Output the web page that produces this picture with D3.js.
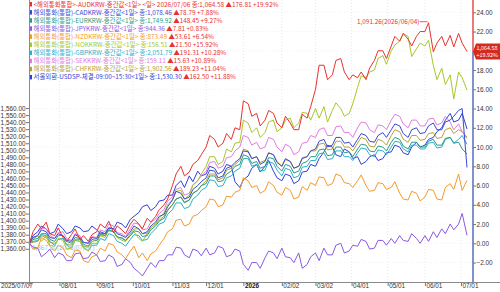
<!DOCTYPE html>
<html><head><meta charset="utf-8">
<script src="https://cdn.jsdelivr.net/npm/d3@7"></script>
<style>html,body{margin:0;padding:0;background:#fff;}svg{display:block;font-family:"Noto Sans CJK KR","Noto Sans",sans-serif;}</style>
</head><body><svg id="c" width="500" height="292"></svg>
<script>
const dates = [
"2025-07-07","2025-07-10","2025-07-14","2025-07-17","2025-07-21","2025-07-24","2025-07-28","2025-07-31",
"2025-08-04","2025-08-07","2025-08-11","2025-08-14","2025-08-18","2025-08-21","2025-08-25","2025-08-28",
"2025-09-01","2025-09-04","2025-09-08","2025-09-11","2025-09-15","2025-09-18","2025-09-22","2025-09-25","2025-09-29","2025-10-02",
"2025-10-06","2025-10-09","2025-10-13","2025-10-16","2025-10-20","2025-10-23","2025-10-27","2025-10-30",
"2025-11-03","2025-11-06","2025-11-10","2025-11-13","2025-11-17","2025-11-20","2025-11-24","2025-11-27",
"2025-12-01","2025-12-04","2025-12-08","2025-12-11","2025-12-15","2025-12-18","2025-12-22","2025-12-25","2025-12-29","2026-01-01",
"2026-01-05","2026-01-08","2026-01-12","2026-01-15","2026-01-19","2026-01-22","2026-01-26","2026-01-29",
"2026-02-02","2026-02-05","2026-02-09","2026-02-12","2026-02-16","2026-02-19","2026-02-23","2026-02-26",
"2026-03-02","2026-03-05","2026-03-09","2026-03-12","2026-03-16","2026-03-19","2026-03-23","2026-03-26","2026-03-30","2026-04-02",
"2026-04-06","2026-04-09","2026-04-13","2026-04-16","2026-04-20","2026-04-23","2026-04-27","2026-04-30",
"2026-05-04","2026-05-07","2026-05-11","2026-05-14","2026-05-18","2026-05-21","2026-05-25","2026-05-28",
"2026-06-01","2026-06-04","2026-06-08","2026-06-11","2026-06-15","2026-06-18","2026-06-22","2026-06-25","2026-06-29","2026-07-02",
"2026-07-06"];
const audPct = [0,1.2,2.0,1.5,2.2,1.0,0.8,1.6, 0.6,0.2,0.9,1.5,0.4,0.8,0.2,0.9, 1.2,2.0,1.6,2.3,1.1,1.8,1.4,1.0,2.0,2.5, 2.0,1.5,2.6,2.2,2.8,3.5,4.0,4.6, 6.0,7.2,8.0,7.0,7.4,8.2,8.6,9.2, 10.0,11.2,10.8,10.0,10.4,11.4,10.8,12.0,11.8,14.8, 14.5,13.2,13.5,12.2,12.8,13.8,13.5,12.5, 12.0,13.2,12.5,11.8,11.8,13.4,13.0,14.2, 16.0,18.5,18.5,17.0,17.5,19.0,19.2,17.8,17.0,17.5, 17.2,17.8,17.0,18.2,19.0,20.0,20.0,19.2, 20.5,21.5,21.0,21.8,21.2,20.5,21.5,22.0, 22.0,22.92,19.9,20.8,21.5,20.5,21.6,20.4,21.8,20.8, 19.92];
const cadPct = [0,0.6,0.8,1.4,1.2,0.6,0.5,1.0, 0.8,0.3,0.2,0.9,0.6,0.1,0.0,0.6, 0.5,1.2,1.0,1.6,1.5,1.0,0.8,0.6,1.2,1.8, 1.5,1.0,1.2,1.8,2.2,2.8,3.0,3.8, 4.5,5.4,5.2,4.6,4.8,5.6,6.0,6.4, 6.8,7.6,7.5,6.8,7.0,7.8,8.0,8.4,8.8,9.6, 9.5,8.8,9.0,8.2,8.5,9.4,9.2,8.4, 8.0,8.8,8.5,7.8,8.0,8.8,9.0,9.6, 9.8,10.6,10.8,10.0,10.2,11.0,11.0,10.4,10.5,10.0, 10.8,11.4,11.2,10.6,10.5,11.2,11.5,11.0, 11.8,12.4,12.2,11.4,11.0,11.8,12.0,11.4, 11.5,12.2,12.5,11.8,11.8,12.6,12.8,13.2,13.8,14.0, 7.88];
const eurPct = [0,0.4,0.5,1.0,1.0,0.4,0.2,0.8, 0.8,0.2,0.0,0.6,0.5,-0.1,-0.3,0.4, 0.3,0.9,0.8,1.4,1.2,0.7,0.5,0.3,0.8,1.3, 1.2,0.7,0.8,1.4,1.8,2.3,2.6,3.4, 4.0,4.6,4.8,4.2,4.5,5.2,5.5,6.0, 6.2,7.0,7.0,6.4,6.5,7.2,7.5,8.0,8.2,9.2, 9.0,8.3,8.5,7.8,8.0,8.9,8.8,8.0, 7.5,8.2,8.0,7.3,7.5,8.3,8.5,9.0, 9.0,9.7,9.8,9.1,9.2,10.0,10.0,9.4,9.5,9.0, 9.8,10.3,10.2,9.6,9.5,10.1,10.0,9.6, 10.5,11.0,10.8,10.1,9.8,10.5,10.5,10.0, 10.0,10.6,10.8,10.2,10.2,10.9,11.0,10.4,10.5,9.8, 9.27];
const jpyPct = [0,-0.4,-0.5,-1.4,-1.0,-0.6,-1.5,-1.0, -1.2,-1.8,-1.8,-1.1,-1.0,-1.6,-1.5,-0.9, -1.2,-1.9,-1.8,-1.2,-1.5,-2.4,-2.2,-1.6,-2.0,-2.6, -3.0,-3.4,-2.6,-2.0,-2.5,-1.8,-1.8,-1.2, -1.2,-0.4,-0.5,-1.2,-1.5,-0.6,-0.8,-1.3, -0.5,-1.2,-1.0,-0.3,-0.5,-1.4,-1.2,-0.6,-0.8,-2.2, -2.8,-2.0,-2.0,-2.6,-1.5,-0.8,-1.0,-1.6, -0.5,-1.4,-1.5,-2.0,-1.0,-2.6,-2.2,-1.4, -1.0,-1.8,-0.5,-1.2,-1.2,-0.2,0.0,-1.0,-0.8,-0.2, -0.3,0.4,0.2,-0.6,-0.5,0.3,0.3,-0.2, 0.5,0.0,0.8,0.3,0.2,1.0,0.5,0.0, 0.8,0.2,1.2,0.6,1.5,1.0,2.0,1.4,2.0,3.1, 0.83];
const nzdPct = [0,-0.6,-0.5,0.6,0.3,-0.3,-0.8,-0.2, -0.5,-1.2,-1.5,-0.7,-0.8,-1.8,-2.0,-1.4, -1.2,-0.5,-0.8,0.0,-0.2,-0.9,-1.2,-1.6,-0.8,-0.3, -1.5,-1.0,-1.8,-1.1,-0.8,-0.2,0.5,1.2, 1.5,2.4,2.5,1.8,2.0,2.8,3.0,3.4, 3.8,4.6,4.5,3.8,4.0,4.9,4.8,5.3,5.5,6.8, 6.5,5.8,6.0,5.2,5.5,6.4,6.0,5.3, 5.0,5.8,5.5,4.6,4.8,5.9,5.5,6.3, 6.0,6.9,6.8,6.0,6.2,7.2,7.0,6.3,6.2,5.8, 6.5,7.1,6.0,5.4,5.5,6.3,6.2,5.6, 5.8,6.4,5.2,4.6,4.5,5.4,5.2,4.4, 4.8,5.6,5.5,4.6,4.5,5.8,6.2,5.6,7.2,5.5, 6.54];
const nokPct = [0,0.4,0.8,0.2,0.8,-0.2,-0.3,0.5, 0.3,-0.6,-0.5,0.4,0.2,-0.5,-0.8,0.0, 0.0,0.8,0.6,1.4,1.2,0.6,0.3,0.2,0.8,1.2, 0.5,0.2,1.0,1.6,2.0,2.6,3.2,4.0, 4.5,5.4,5.5,4.6,5.0,6.0,6.5,7.2, 8.0,9.0,9.0,8.2,8.5,9.8,9.5,10.4,10.5,12.8, 12.5,11.5,12.0,11.0,11.5,12.6,12.8,11.6, 12.0,12.8,13.0,12.0,12.5,13.6,13.5,12.8, 14.0,13.0,14.2,12.6,13.8,14.6,14.0,13.2,13.5,14.5, 16.2,17.4,17.2,17.8,18.0,19.2,19.5,18.6, 20.0,20.6,21.0,21.8,21.5,19.4,20.2,20.8, 20.5,21.1,18.5,17.0,18.2,16.5,17.5,15.0,17.8,17.2, 15.92];
const gbpPct = [0,0.2,0.3,0.9,0.8,0.2,-0.2,0.4, 0.5,-0.2,-0.5,0.3,0.2,-0.4,-0.8,-0.2, -0.2,0.5,0.3,1.0,0.8,0.2,0.0,-0.3,0.4,0.9, 0.8,0.3,0.4,1.0,1.5,2.0,2.2,3.0, 3.5,4.2,4.2,3.6,3.8,4.6,5.0,5.5, 5.8,6.6,6.5,5.9,6.0,6.8,7.0,7.5,7.8,8.8, 8.8,8.0,8.2,7.5,7.6,8.5,8.3,7.6, 7.0,7.8,7.6,6.8,7.0,7.9,8.0,8.6, 8.6,9.3,9.4,8.7,8.8,9.6,9.6,9.0,9.0,8.6, 9.4,9.9,9.8,9.2,9.0,9.7,9.6,9.2, 10.0,10.6,10.5,9.8,9.5,10.2,10.2,9.8, 9.8,10.4,10.5,9.9,10.0,10.8,11.0,10.4,10.8,11.2, 10.28];
const sekPct = [0,0.6,0.8,1.6,1.5,0.8,0.5,1.1, 1.2,0.5,0.3,1.0,0.8,0.1,0.0,0.7, 0.6,1.4,1.2,2.0,1.8,1.1,1.0,0.7,1.5,2.1, 2.0,1.4,1.5,2.2,2.5,3.1,3.5,4.4, 4.8,5.6,5.8,5.0,5.2,6.1,6.5,7.0, 7.5,8.4,8.5,7.8,8.0,8.9,9.0,9.6,10.0,11.2, 11.0,10.2,10.5,9.8,10.0,11.0,10.8,10.0, 9.5,10.3,10.0,9.2,9.5,10.4,10.5,11.2, 11.0,11.8,12.0,11.2,11.2,12.1,12.2,11.5,11.5,11.0, 12.0,12.6,12.5,11.8,11.5,12.3,12.2,11.8, 12.8,13.4,13.2,12.4,12.0,12.8,12.8,12.2, 12.2,12.9,13.0,12.3,12.5,13.2,12.6,11.8,12.4,11.6, 10.89];
const chfPct = [0,0.1,0.2,0.8,0.6,0.1,0.0,0.4, 0.5,-0.1,-0.2,0.4,0.4,-0.3,-0.4,0.2, 0.3,1.0,0.8,1.3,1.2,0.6,0.6,0.3,1.0,1.5, 1.5,1.0,1.0,1.6,2.0,2.4,2.8,3.5, 4.0,4.6,4.8,4.3,4.5,5.2,5.5,6.0, 6.5,7.2,7.2,6.6,6.8,7.6,7.8,8.2,8.6,9.8, 9.6,8.8,9.0,8.4,8.6,9.4,9.2,8.5, 8.0,8.7,8.5,7.8,8.0,8.9,9.0,9.6, 9.6,10.3,10.4,9.7,9.8,10.6,10.6,10.0,10.0,9.6, 10.4,11.0,10.8,10.1,10.0,10.8,10.6,10.2, 11.2,11.8,11.6,10.8,10.5,11.2,11.2,10.7, 10.8,11.4,11.5,10.9,11.0,11.8,12.0,11.4,11.8,11.6, 11.04];
const usdPct = [0,0.8,1.2,1.8,1.5,1.0,1.2,2.0, 1.5,1.0,1.2,1.8,1.6,1.2,1.3,1.8, 1.4,1.0,1.0,1.6,1.5,2.2,2.0,1.6,2.5,2.8, 3.2,3.8,4.0,3.4,3.8,4.4,4.5,5.0, 5.0,6.0,6.5,5.8,7.0,6.4,7.5,7.0, 7.2,8.0,7.8,7.2,7.5,8.2,8.0,6.4,5.8,6.6, 7.0,7.8,8.2,7.4,8.0,8.6,7.5,6.8, 6.5,7.2,7.0,6.2,6.5,7.4,7.5,8.2, 8.0,8.8,9.5,10.2,10.0,9.2,9.0,9.8,9.5,8.8, 9.0,8.2,8.5,9.0,9.2,8.6,8.8,9.4, 9.5,10.2,10.0,9.4,9.2,10.0,10.5,10.0, 10.2,10.8,11.0,11.6,12.0,12.8,13.5,12.6,12.8,13.5, 11.88];

const legendLabels = [
 ["<해외통화통합>-AUDKRW-중간값<1일> <일> 2026/07/06 종:1,064.58","▲176.81 +19.92%"],
 ["해외통화(통합)-CADKRW-중간값<1일> 종:1,078.46","▲78.79 +7.88%"],
 ["해외통화(통합)-EURKRW-중간값<1일> 종:1,749.92","▲148.45 +9.27%"],
 ["해외통화(통합)-JPYKRW-중간값<1일> 종:944.36","▲7.81 +0.83%"],
 ["해외통화(통합)-NZDKRW-중간값<1일> 종:873.49","▲53.61 +6.54%"],
 ["해외통화(통합)-NOKKRW-중간값<1일> 종:156.51","▲21.50 +15.92%"],
 ["해외통화(통합)-GBPKRW-중간값<1일> 종:2,051.79","▲191.31 +10.28%"],
 ["해외통화(통합)-SEKKRW-중간값<1일> 종:159.11","▲15.63 +10.89%"],
 ["해외통화(통합)-CHFKRW-중간값<1일> 종:1,902.56","▲189.23 +11.04%"],
 ["서울외환-USDSP-체결-09:00~15:30<1일> 종:1,530.30","▲162.50 +11.88%"]
];
const seriesColors = ["#e8322e","#3a4ad0","#2a9a82","#8a5ae0","#f59a28","#a6c82a","#2ab0c8","#e07ee0","#b8a23a","#2f3fd8"];
const seriesData = [audPct,cadPct,eurPct,jpyPct,nzdPct,nokPct,gbpPct,sekPct,chfPct,usdPct];
const drawOrder = [9,8,7,6,5,4,3,2,1,0];
const leftTicks = [1360,1370,1380,1390,1400,1410,1420,1430,1440,1450,1460,1470,1480,1490,1500,1510,1520,1530,1540,1550,1560];
const rightTicks = [-2,0,2,4,6,8,10,12,14,16,18,20,22,24];
const xTickDates = ["2025-07-07","2025-08-01","2025-09-01","2025-10-01","2025-11-03","2025-12-01","2026-01-01","2026-02-02","2026-03-02","2026-04-01","2026-05-01","2026-06-01","2026-07-01"];
const xTickLabels = ["2025/07/07","08/01","09/01","10/01","11/03","12/01","2026","02/02","03/02","04/01","05/01","06/01","07/01"];
const usdBase = 1367.80;
const audMaxLabel = "1,091.26(2026/06/04)";
const usdMinLabel = "1,367.80(2025/07/07)";
const lastLabel = ["1,064.58","+19.92%"];

const parse = d3.timeParse("%Y-%m-%d");
const svg = d3.select("#c");
const L = 29, R = 473, T = 0, B = 282;
const x = d3.scaleTime().domain([parse("2025-07-07"), parse("2026-07-11")]).range([29.4, 473]);
const yR = d3.scaleLinear().domain([0, 24]).range([243.3, 12.3]);
const yL = d3.scaleLinear().domain([usdBase, usdBase*1.24]).range([243.3, 12.3]);

// grid
const g = svg.append("g");
xTickDates.slice(1).forEach(d => {
  g.append("line").attr("x1", x(parse(d))).attr("x2", x(parse(d))).attr("y1", T).attr("y2", B)
   .attr("stroke", "#d8d8d8").attr("stroke-width", 0.6).attr("stroke-dasharray", "1,2");
});
rightTicks.forEach(v => {
  g.append("line").attr("x1", L).attr("x2", R).attr("y1", yR(v)).attr("y2", yR(v))
   .attr("stroke", "#e6e6e6").attr("stroke-width", 0.6).attr("stroke-dasharray", "1,2");
});

// lines
const line = d3.line().x((d,i) => x(parse(dates[i]))).y(d => yR(d));
drawOrder.forEach(k => {
  svg.append("path").datum(seriesData[k]).attr("d", line).attr("fill", "none")
    .attr("stroke", seriesColors[k]).attr("stroke-width", 1).attr("stroke-linejoin", "round");
});

// axes
svg.append("line").attr("x1", L+0.5).attr("x2", L+0.5).attr("y1", 0).attr("y2", B).attr("stroke", "#8a8a8a");
svg.append("line").attr("x1", R).attr("x2", R).attr("y1", 0).attr("y2", 52).attr("stroke", "#e02020").attr("stroke-width", 1.2);
svg.append("line").attr("x1", R).attr("x2", R).attr("y1", 52).attr("y2", B).attr("stroke", "#2a4aa8").attr("stroke-width", 1.2);
svg.append("line").attr("x1", 0).attr("x2", 500).attr("y1", B+0.5).attr("y2", B+0.5).attr("stroke", "#8a8a8a");

const leftAxis = d3.axisLeft(yL).tickValues(leftTicks).tickSize(3).tickFormat(d3.format(",.2f"));
const la = svg.append("g").attr("transform", `translate(${L},0)`).call(leftAxis);
la.select(".domain").remove();
la.selectAll("text").attr("font-size", 6.4).attr("fill", "#333").attr("x", -3.5);
la.selectAll("line").attr("stroke", "#777");

const rightAxis = d3.axisRight(yR).tickValues(rightTicks).tickSize(3).tickFormat(d3.format(",.2f"));
const ra = svg.append("g").attr("transform", `translate(${R},0)`).call(rightAxis);
ra.select(".domain").remove();
ra.selectAll("text").attr("font-size", 6.4).attr("fill", "#333").attr("x", 3.5);
ra.selectAll("line").attr("stroke", "#777");
ra.selectAll(".tick").filter(d => d === 20).remove();

const bottomAxis = d3.axisBottom(x).tickValues(xTickDates.map(parse)).tickSize(4)
  .tickFormat((d,i) => xTickLabels[i]);
const ba = svg.append("g").attr("transform", `translate(0,${B})`).call(bottomAxis);
ba.select(".domain").remove();
ba.selectAll("line").attr("stroke", "#777");
ba.selectAll("text").attr("font-size", 6.4).attr("fill", "#333").attr("text-anchor", "start").attr("dx", 1).attr("dy", -1.5);
ba.selectAll("text").filter((d,i)=>i===0).attr("text-anchor","start").attr("x", -29).attr("dx", 0);
ba.selectAll("text").filter((d,i)=>xTickLabels[i]==="2026").attr("font-weight","bold").attr("fill","#111");

// legend
const lg = svg.append("g");
legendLabels.forEach((lab, i) => {
  const yy = 6.5 + i*8.1;
  lg.append("rect").attr("x", 30).attr("y", yy-4.5).attr("width", 2).attr("height", 4.5).attr("fill", seriesColors[i]);
  const t = lg.append("text").attr("x", 33.5).attr("y", yy).attr("font-size", 6.4);
  t.append("tspan").attr("fill", seriesColors[i]).text(lab[0] + " ");
  t.append("tspan").attr("fill", "#e8322e").text(lab[1]);
});

// max label (AUD)
const mi = d3.maxIndex(audPct);
const mx = x(parse(dates[mi])), my = yR(audPct[mi]);
svg.append("text").attr("x", mx-9).attr("y", my+1).attr("text-anchor","end").attr("font-size",6.4).attr("fill","#e8322e").text(audMaxLabel);
svg.append("line").attr("x1", mx-9).attr("x2", mx-1).attr("y1", my-1).attr("y2", my-1).attr("stroke","#e8322e").attr("stroke-width",0.8);
// min label (USD)
svg.append("text").attr("x", 32).attr("y", yR(0)+7).attr("font-size",6.4).attr("fill","#8ac4e8").text(usdMinLabel);

// right value label
const ly = yR(audPct[audPct.length-1]);
const lb = svg.append("g");
lb.append("path").attr("d", `M${R},${ly} L${R+3},${ly-8} L500,${ly-8} L500,${ly+8} L${R+3},${ly+8} Z`).attr("fill","#d42a20");
lb.append("text").attr("x", R+3.5).attr("y", ly-1.5).attr("font-size",5.4).attr("fill","#fff").text(lastLabel[0]);
lb.append("text").attr("x", R+3.5).attr("y", ly+5.8).attr("font-size",5.4).attr("fill","#fff").text(lastLabel[1]);
</script></body></html>
